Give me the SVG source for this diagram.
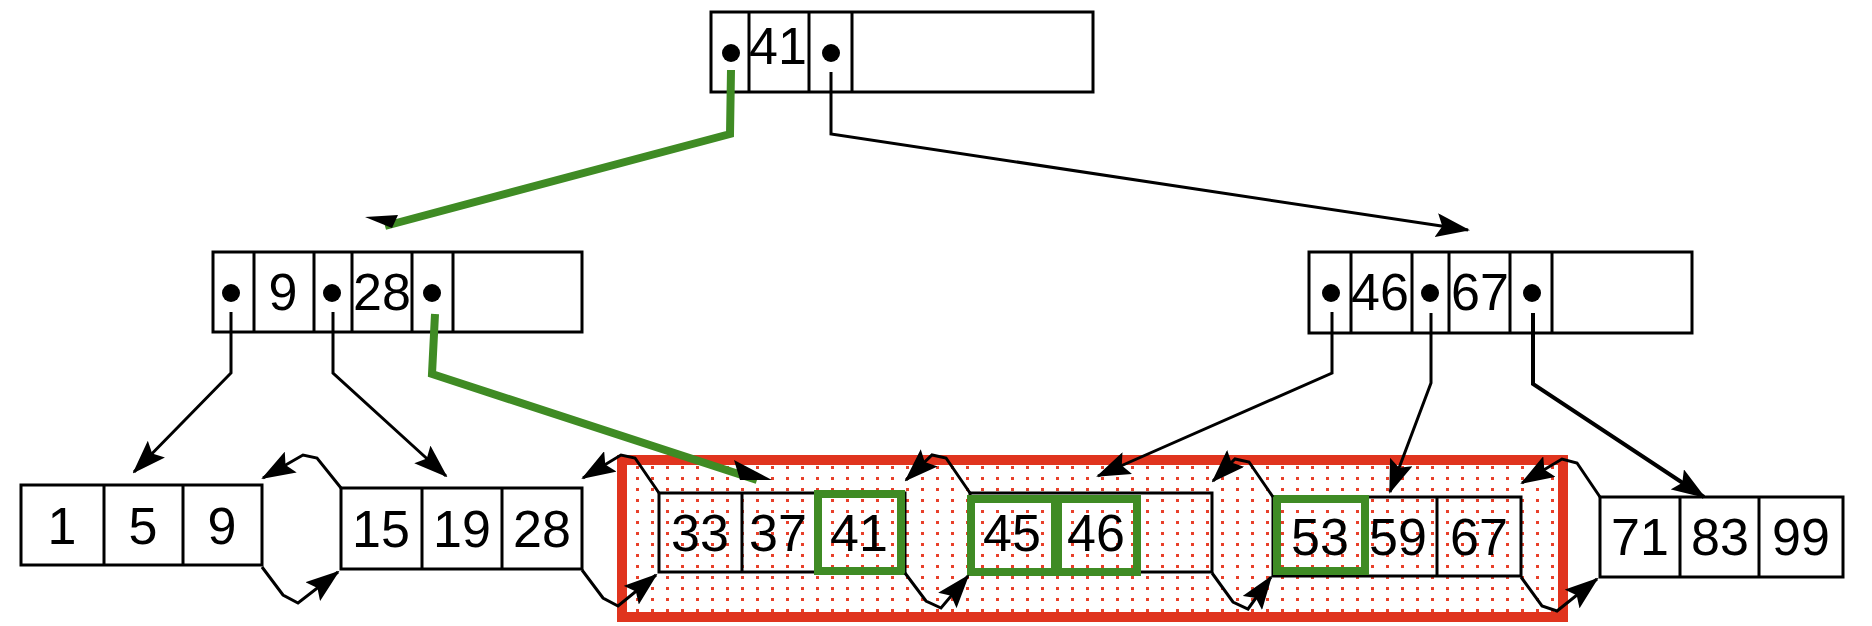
<svg xmlns="http://www.w3.org/2000/svg" width="1872" height="626" viewBox="0 0 1872 626">
<style>
.c{fill:none;stroke:#000;stroke-width:3}
.t{font-family:"Liberation Sans",Arial,sans-serif;font-size:52px;text-anchor:middle;fill:#000}
.b{fill:#000}
.e{fill:none;stroke:#000;stroke-width:3}
.g{fill:none;stroke:#3f8b24;stroke-width:8}
.gb{fill:none;stroke:#3f8b24;stroke-width:8}
</style>
<defs>
<marker id="a" markerUnits="userSpaceOnUse" markerWidth="34" markerHeight="24" refX="32" refY="12" orient="auto"><path d="M0,0 L34,12 L0,24 L6,12 Z" fill="#000"/></marker>
<pattern id="dots" width="15" height="11" patternUnits="userSpaceOnUse"><rect x="6" y="4" width="3" height="3" fill="#e8402a"/></pattern>
</defs>
<g id="highlight">
<rect x="622" y="460" width="941" height="157" fill="#fff"/>
<rect x="622" y="460" width="941" height="157" fill="url(#dots)" stroke="#e0341e" stroke-width="10"/>
</g>
<g id="root">
<rect x="711" y="12" width="382" height="80" class="c" fill="#fff"/>
<path class="c" d="M749,12V92M809,12V92M852,12V92"/>
<circle cx="731" cy="53" r="9" class="b"/><circle cx="831" cy="53" r="9" class="b"/>
<text class="t" x="778" y="64">41</text>
</g>
<g id="mid-left">
<rect x="213" y="252" width="369" height="80" class="c" fill="#fff"/>
<path class="c" d="M254,252V332M314,252V332M352,252V332M412,252V332M453,252V332"/>
<circle cx="231" cy="293" r="9" class="b"/><circle cx="332" cy="293" r="9" class="b"/><circle cx="432" cy="293" r="9" class="b"/>
<text class="t" x="283" y="310">9</text><text class="t" x="382" y="310">28</text>
</g>
<g id="mid-right">
<rect x="1309" y="252" width="383" height="81" class="c" fill="#fff"/>
<path class="c" d="M1351,252V333M1412,252V333M1449,252V333M1510,252V333M1552,252V333"/>
<circle cx="1331" cy="293" r="9" class="b"/><circle cx="1430" cy="293" r="9" class="b"/><circle cx="1532" cy="293" r="9" class="b"/>
<text class="t" x="1380" y="310">46</text><text class="t" x="1480" y="310">67</text>
</g>
<g id="leaf1">
<rect x="21" y="485" width="241" height="80" class="c" fill="#fff"/>
<path class="c" d="M104,485V565M183,485V565"/>
<text class="t" x="62" y="544">1</text><text class="t" x="143" y="544">5</text><text class="t" x="222" y="544">9</text>
</g>
<g id="leaf2">
<rect x="341" y="488" width="241" height="81" class="c" fill="#fff"/>
<path class="c" d="M422,488V569M502,488V569"/>
<text class="t" x="381" y="547">15</text><text class="t" x="462" y="547">19</text><text class="t" x="542" y="547">28</text>
</g>
<g id="leaf3">
<rect x="659" y="493" width="246" height="79" class="c" fill="#fff"/>
<path class="c" d="M742,493V572"/>
<rect x="818" y="494" width="83" height="77" class="gb"/>
<text class="t" x="700" y="551">33</text><text class="t" x="778" y="551">37</text><text class="t" x="859" y="551">41</text>
</g>
<g id="leaf4">
<rect x="970" y="493" width="242" height="79" class="c" fill="#fff"/>
<rect x="971" y="499" width="84" height="73" class="gb"/>
<rect x="1058" y="499" width="79" height="73" class="gb"/>
<text class="t" x="1012" y="551">45</text><text class="t" x="1096" y="551">46</text>
</g>
<g id="leaf5">
<rect x="1273" y="497" width="248" height="79" class="c" fill="#fff"/>
<path class="c" d="M1437,497V576"/>
<rect x="1277" y="499" width="88" height="72" class="gb"/>
<text class="t" x="1320" y="555">53</text><text class="t" x="1398" y="555">59</text><text class="t" x="1479" y="555">67</text>
</g>
<g id="leaf6">
<rect x="1600" y="497" width="243" height="80" class="c" fill="#fff"/>
<path class="c" d="M1680,497V577M1759,497V577"/>
<text class="t" x="1640" y="555">71</text><text class="t" x="1720" y="555">83</text><text class="t" x="1801" y="555">99</text>
</g>
<g id="connectors">
<path class="g" d="M731,70 L730,134 L385,226"/>
<path d="M365,217 L398,215 L392,228 Z" fill="#000"/>
<path class="e" d="M831,72 L831,134 L1468,230" marker-end="url(#a)"/>
<path class="e" d="M231,312 L231,373 L134,472" marker-end="url(#a)"/>
<path class="e" d="M333,312 L333,373 L446,476" marker-end="url(#a)"/>
<path class="g" d="M435,314 L432,374 L757,480"/>
<path d="M734,460 L772,480 L740,480 Z" fill="#000"/>
<path class="e" d="M1332,312 L1332,373 L1098,476" marker-end="url(#a)"/>
<path class="e" d="M1431,313 L1431,383 L1390,492" marker-end="url(#a)"/>
<path class="e" style="stroke-width:4" d="M1533,313 L1533,384 L1704,497" marker-end="url(#a)"/>
<path class="e" d="M341,488 L317,458 L303,455 L263,478" marker-end="url(#a)"/>
<path class="e" d="M262,567 L283,595 L298,603 L338,572" marker-end="url(#a)"/>
<path class="e" d="M659,493 L635,458 L621,455 L583,478" marker-end="url(#a)"/>
<path class="e" d="M582,570 L603,598 L618,606 L656,575" marker-end="url(#a)"/>
<path class="e" d="M970,493 L946,458 L932,455 L906,480" marker-end="url(#a)"/>
<path class="e" d="M905,573 L926,601 L941,608 L968,576" marker-end="url(#a)"/>
<path class="e" d="M1273,497 L1249,462 L1235,459 L1213,481" marker-end="url(#a)"/>
<path class="e" d="M1212,573 L1233,602 L1248,609 L1271,577" marker-end="url(#a)"/>
<path class="e" d="M1600,497 L1577,463 L1562,459 L1522,483" marker-end="url(#a)"/>
<path class="e" d="M1521,577 L1542,606 L1557,611 L1597,579" marker-end="url(#a)"/>
</g>
</svg>
